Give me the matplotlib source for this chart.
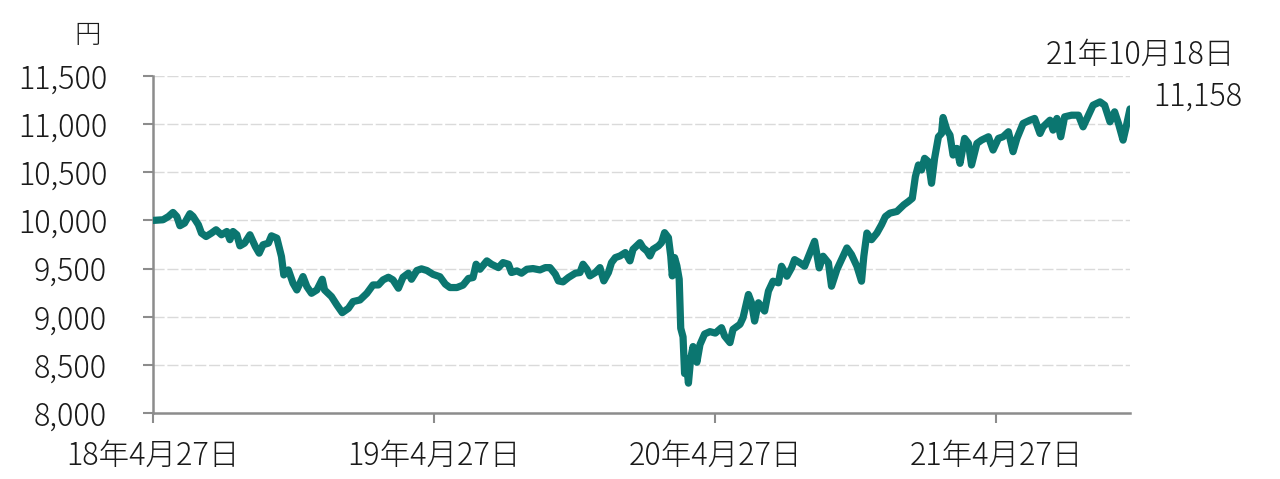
import matplotlib
matplotlib.use("Agg")
import matplotlib.pyplot as plt
import pandas as pd

plt.rcParams['font.family'] = ['Noto Sans CJK JP', 'DejaVu Sans']
plt.rcParams['font.weight'] = 'light'

dates = [
    "2018-04-27", "2018-05-10", "2018-05-17", "2018-05-23", "2018-05-28", "2018-06-01", "2018-06-07",
    "2018-06-14", "2018-06-18", "2018-06-25", "2018-06-29", "2018-07-05", "2018-07-12", "2018-07-18",
    "2018-07-25", "2018-08-01", "2018-08-05", "2018-08-09", "2018-08-14", "2018-08-18", "2018-08-24",
    "2018-08-31", "2018-09-07", "2018-09-12", "2018-09-17", "2018-09-24", "2018-09-28", "2018-10-05",
    "2018-10-11", "2018-10-14", "2018-10-20", "2018-10-26", "2018-10-31", "2018-11-08", "2018-11-13",
    "2018-11-19", "2018-11-26", "2018-12-03", "2018-12-06", "2018-12-15", "2018-12-22", "2018-12-29",
    "2019-01-06", "2019-01-12", "2019-01-21", "2019-01-30", "2019-02-07", "2019-02-14", "2019-02-20",
    "2019-02-27", "2019-03-05", "2019-03-12", "2019-03-18", "2019-03-25", "2019-03-29", "2019-04-05",
    "2019-04-11", "2019-04-18", "2019-04-26", "2019-05-05", "2019-05-12", "2019-05-18", "2019-05-27",
    "2019-06-04", "2019-06-11", "2019-06-17", "2019-06-21", "2019-06-26", "2019-07-05", "2019-07-11",
    "2019-07-20", "2019-07-26", "2019-08-02", "2019-08-06", "2019-08-13", "2019-08-19", "2019-08-26",
    "2019-09-03", "2019-09-12", "2019-09-19", "2019-09-25", "2019-10-02", "2019-10-06", "2019-10-12",
    "2019-10-19", "2019-10-28", "2019-11-03", "2019-11-07", "2019-11-12", "2019-11-16", "2019-11-23",
    "2019-11-29", "2019-12-04", "2019-12-10", "2019-12-14", "2019-12-19", "2019-12-25", "2020-01-01",
    "2020-01-07", "2020-01-11", "2020-01-20", "2020-01-24", "2020-01-29", "2020-02-02", "2020-02-06",
    "2020-02-13", "2020-02-17", "2020-02-21", "2020-02-26", "2020-02-29", "2020-03-02", "2020-03-05",
    "2020-03-08", "2020-03-11", "2020-03-13", "2020-03-16", "2020-03-18", "2020-03-20", "2020-03-23",
    "2020-03-26", "2020-03-29", "2020-04-03", "2020-04-07", "2020-04-13", "2020-04-20", "2020-04-27",
    "2020-05-05", "2020-05-09", "2020-05-16", "2020-05-20", "2020-05-29", "2020-06-02", "2020-06-09",
    "2020-06-13", "2020-06-17", "2020-06-22", "2020-06-30", "2020-07-05", "2020-07-11", "2020-07-18",
    "2020-07-22", "2020-07-29", "2020-08-04", "2020-08-08", "2020-08-15", "2020-08-21", "2020-08-28",
    "2020-09-03", "2020-09-09", "2020-09-14", "2020-09-21", "2020-09-25", "2020-10-02", "2020-10-08",
    "2020-10-15", "2020-10-21", "2020-10-28", "2020-11-03", "2020-11-06", "2020-11-10", "2020-11-16",
    "2020-11-23", "2020-11-29", "2020-12-04", "2020-12-10", "2020-12-19", "2020-12-28", "2021-01-03",
    "2021-01-08", "2021-01-12", "2021-01-16", "2021-01-20", "2021-01-24", "2021-01-29", "2021-02-02",
    "2021-02-06", "2021-02-11", "2021-02-15", "2021-02-17", "2021-02-22", "2021-02-26", "2021-03-02",
    "2021-03-07", "2021-03-11", "2021-03-17", "2021-03-22", "2021-03-26", "2021-04-02", "2021-04-08",
    "2021-04-17", "2021-04-23", "2021-04-30", "2021-05-06", "2021-05-13", "2021-05-19", "2021-05-24",
    "2021-06-01", "2021-06-10", "2021-06-16", "2021-06-23", "2021-06-27", "2021-07-06", "2021-07-10",
    "2021-07-15", "2021-07-20", "2021-07-25", "2021-08-03", "2021-08-12", "2021-08-18", "2021-08-25",
    "2021-08-31", "2021-09-09", "2021-09-15", "2021-09-22", "2021-09-28", "2021-10-03", "2021-10-09",
    "2021-10-13", "2021-10-18",
]

values = [
    10000, 10007, 10040, 10083, 10040, 9945, 9972,
    10070, 10042, 9955, 9868, 9833, 9868, 9903,
    9851, 9885, 9800, 9885, 9851, 9736, 9764,
    9851, 9729, 9660, 9747, 9764, 9840, 9816,
    9625, 9434, 9486, 9348, 9278, 9417, 9313,
    9243, 9278, 9389, 9278, 9209, 9122, 9042,
    9087, 9157, 9174, 9243, 9330, 9330, 9382,
    9410, 9382, 9296, 9410, 9452, 9389, 9480,
    9497, 9480, 9440, 9415, 9338, 9303, 9303,
    9328, 9397, 9407, 9545, 9493, 9580, 9545,
    9510, 9562, 9545, 9459, 9476, 9452, 9493,
    9500, 9486, 9510, 9510, 9441, 9372, 9362,
    9407, 9452, 9459, 9545, 9493, 9424, 9459,
    9510, 9372, 9459, 9562, 9614, 9631, 9666,
    9580, 9700, 9769, 9717, 9683, 9631, 9700,
    9735, 9769, 9873, 9821, 9631, 9424, 9614,
    9528, 9390, 8880, 8790, 8410, 8560, 8310,
    8570, 8690, 8527, 8710, 8820, 8845, 8830,
    8886, 8800, 8731, 8869, 8921, 8990, 9231,
    9145, 8955, 9145, 9059, 9266, 9369, 9352,
    9524, 9421, 9507, 9593, 9559, 9524, 9662,
    9783, 9507, 9628, 9559, 9317, 9490, 9593,
    9714, 9645, 9524, 9369, 9628, 9869, 9800,
    9869, 9955, 10040, 10076, 10093, 10162, 10197,
    10230, 10455, 10576, 10524, 10645, 10610, 10386,
    10645, 10869, 10903, 11069, 10938, 10886, 10679,
    10748, 10593, 10852, 10800, 10576, 10800, 10834,
    10869, 10731, 10852, 10869, 10921, 10714, 10852,
    11007, 11041, 11059, 10903, 10972, 11041, 10938,
    11059, 10869, 11076, 11093, 11093, 10972, 11093,
    11197, 11231, 11197, 11024, 11128, 11007, 10834,
    10972, 11158,
]

yticks = [8000, 8500, 9000, 9500, 10000, 10500, 11000, 11500]
xticks = ["2018-04-27", "2019-04-27", "2020-04-27", "2021-04-27"]
xtick_labels = ["18年4月27日", "19年4月27日", "20年4月27日", "21年4月27日"]
y_unit = "円"
last_label = "21年10月18日"
last_value_label = "11,158"

x = pd.to_datetime(dates)
line_color = "#0B7670"
text_color = "#1A1A1A"

fig = plt.figure(figsize=(12.8, 4.79), dpi=100)
ax = fig.add_axes([153 / 1280, 1 - 413 / 479, (1130 - 153) / 1280, (413 - 76) / 479])

for yv in yticks[1:]:
    ax.axhline(yv, color="#DADADA", linewidth=1.0, linestyle=(0, (8, 2)), zorder=1)

ax.plot(x, values, color=line_color, linewidth=5.2, solid_joinstyle="round",
        solid_capstyle="round", zorder=3)

ax.set_xlim(pd.Timestamp(dates[0]), pd.Timestamp(dates[-1]))
ax.set_ylim(yticks[0], yticks[-1])

ax.set_yticks(yticks)
ax.set_yticklabels([f"{v:,}" for v in yticks])
ax.set_xticks(pd.to_datetime(xticks))
ax.set_xticklabels(xtick_labels)

for s in ["top", "right"]:
    ax.spines[s].set_visible(False)
for s in ["left", "bottom"]:
    ax.spines[s].set_color("#8C8C8C")
    ax.spines[s].set_linewidth(1.8)

ax.tick_params(axis="y", direction="out", length=7, width=1.5, color="#8C8C8C",
               pad=26, labelsize=22, labelcolor=text_color)
ax.tick_params(axis="x", direction="out", length=7, width=1.5, color="#8C8C8C",
               pad=12, labelsize=22, labelcolor=text_color)

fig.text(88 / 1280, 1 - 35 / 479, y_unit, fontsize=19, color=text_color,
         ha="center", va="center")
fig.text(1140 / 1280, 1 - 55 / 479, last_label, fontsize=22, color=text_color,
         ha="center", va="center")
fig.text(1242 / 1280, 1 - 97 / 479, last_value_label, fontsize=22, color=text_color,
         ha="right", va="center")

fig.savefig("out.png", dpi=100)
